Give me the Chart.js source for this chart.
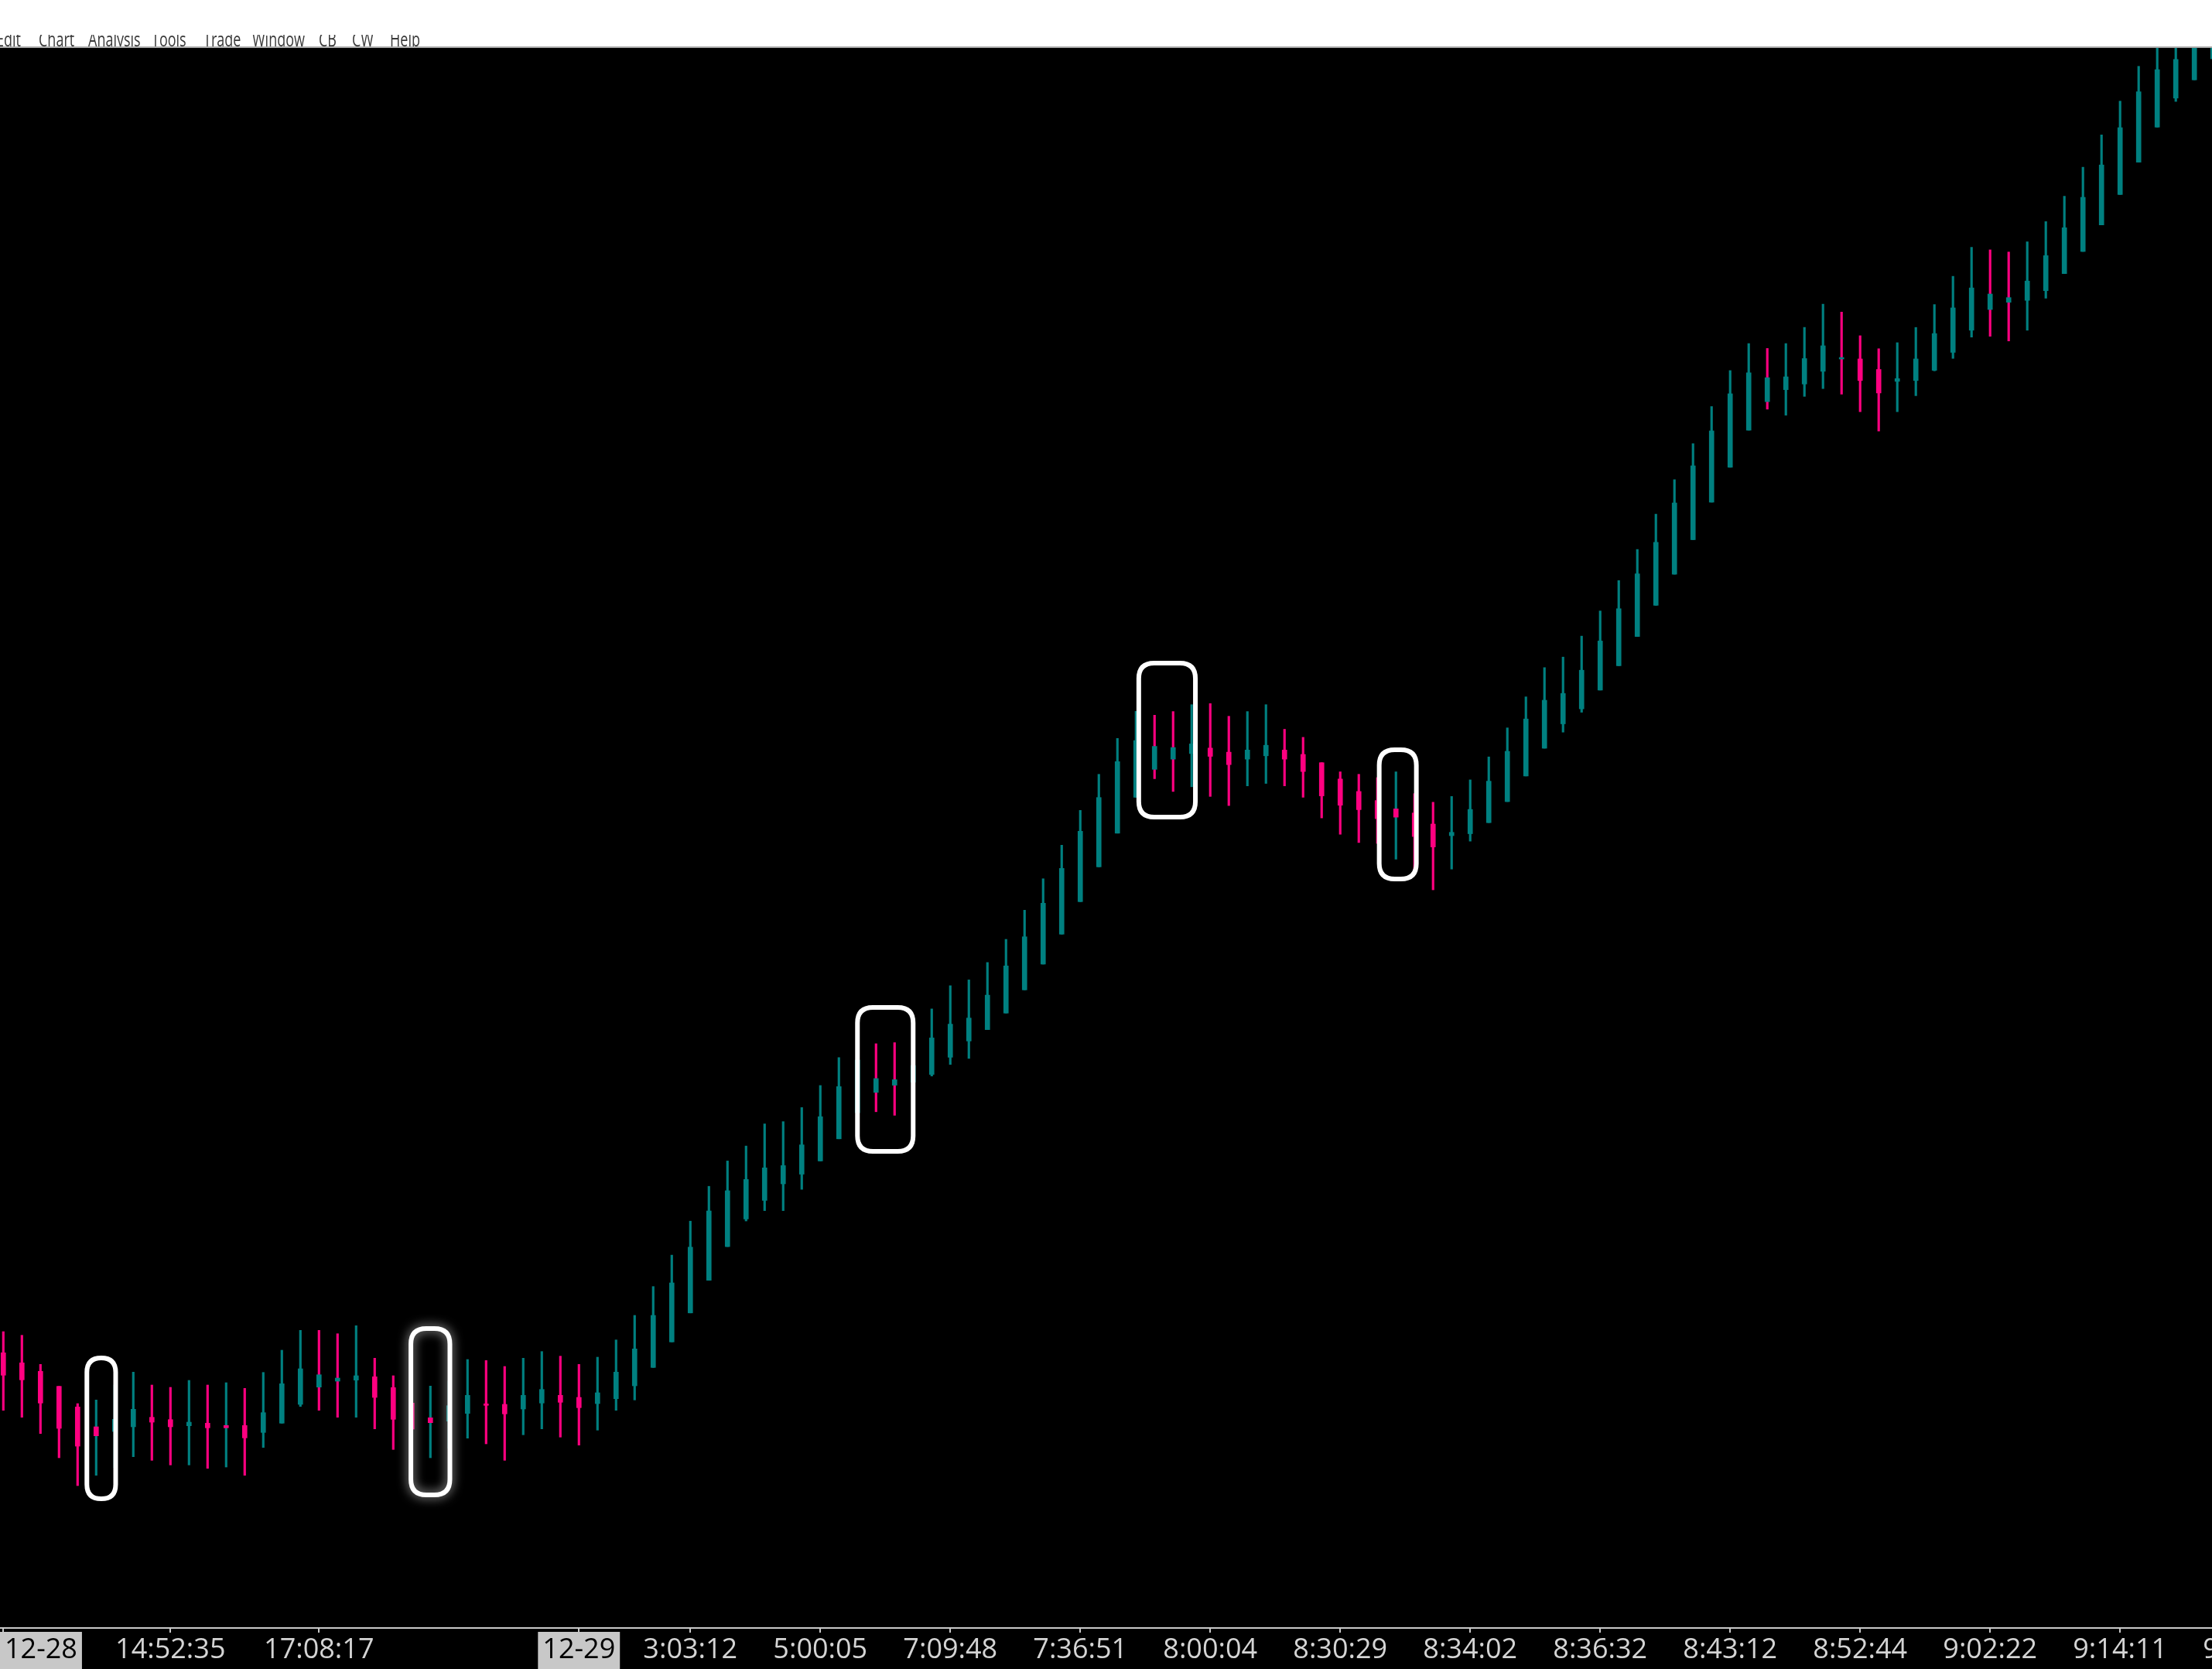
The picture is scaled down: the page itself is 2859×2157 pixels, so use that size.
<!DOCTYPE html>
<html>
<head>
<meta charset="utf-8">
<script src="https://cdn.jsdelivr.net/npm/chart.js@4.4.1/dist/chart.umd.min.js"></script>
<style>
html,body{margin:0;padding:0;background:#000;overflow:hidden}
#wrap{width:2859px;height:2157px;position:relative}
canvas{display:block}
</style>
</head>
<body>
<div id="wrap"><canvas id="c" width="2859" height="2157"></canvas></div>
<script>
// ---------- data (one value per bar, left to right) ----------
const opens = [35.17,33.87,32.77,30.83,28.17,25.6,25.0,25.6,26.83,26.53,
25.73,26.07,25.77,25.77,24.87,26.07,28.5,30.73,31.5,31.63,
32.07,30.67,28.67,26.77,26.33,27.33,28.47,28.5,27.9,28.67,
29.67,29.4,28.6,29.23,30.9,33.27,36.57,40.32,44.54,48.89,
52.46,54.86,57.0,58.25,59.96,62.82,66.2,68.82,69.75,70.14,
71.14,73.36,75.46,76.93,79.07,82.07,85.4,89.27,93.47,97.97,
102.32,106.96,110.57,111.89,112.61,113.32,112.79,111.89,112.32,113.07,
112.5,111.43,109.32,107.71,106.54,105.46,104.93,103.5,102.0,102.25,
103.68,106.4,109.71,113.3,116.45,118.39,120.81,123.96,127.74,131.77,
135.79,140.25,145.1,149.61,154.4,158.09,159.64,160.37,162.01,163.6,
163.61,162.25,160.71,160.82,162.14,164.46,167.32,170.0,170.93,171.18,
172.43,174.64,177.5,180.93,184.86,189.04,193.57,197.32,199.68,202.4];
const highs = [37.9,37.43,33.67,30.83,28.6,29.07,31.0,32.67,31.0,30.7,
31.6,31.0,31.3,30.57,32.63,35.5,38.07,38.07,37.63,38.67,
34.47,32.2,30.4,30.87,31.5,34.3,34.17,33.4,34.47,35.33,
34.73,33.67,34.6,36.83,40.0,43.73,47.79,52.18,56.68,59.96,
61.89,64.75,65.04,66.86,69.71,73.32,76.89,75.11,75.25,76.89,
79.61,82.61,83.36,85.61,88.6,92.37,96.43,100.77,105.27,109.93,
114.57,118.07,117.57,118.04,118.93,119.07,117.43,118.04,118.93,115.75,
114.71,111.43,110.25,109.93,109.5,110.25,107.43,106.32,107.07,109.21,
112.18,115.93,119.94,123.72,125.08,127.79,131.04,134.97,138.99,143.55,
148.01,152.66,157.46,162.11,165.6,164.97,165.6,167.69,170.69,169.67,
166.61,164.93,165.71,167.68,170.64,174.29,178.04,177.71,177.43,178.75,
181.36,184.64,188.39,192.57,196.93,201.43,206.0,207.0,208.0,210.0];
const lows = [27.73,26.83,24.73,21.6,18.0,19.33,20.33,21.73,21.27,20.67,
20.67,20.23,20.4,19.33,22.93,26.07,28.23,27.73,26.83,26.83,
25.33,22.67,20.57,21.6,22.83,24.13,23.4,21.27,24.57,25.33,
24.27,23.23,25.17,27.73,29.07,33.27,36.57,40.32,44.54,48.89,
52.2,53.54,53.54,56.29,59.96,62.82,66.2,66.32,65.86,66.57,
70.93,72.43,73.21,76.93,79.07,82.07,85.4,89.27,93.47,97.97,
102.32,106.96,109.36,107.71,108.32,107.07,105.89,108.43,108.75,108.43,
106.96,104.29,102.18,101.11,101.0,98.96,97.43,95.0,97.68,101.29,
103.68,106.4,109.71,113.3,115.38,117.95,120.81,123.96,127.74,131.77,
135.79,140.25,145.1,149.61,154.4,157.12,156.34,158.77,159.78,159.06,
156.79,154.29,156.79,158.86,162.07,163.68,166.43,166.54,165.93,167.32,
171.46,174.64,177.5,180.93,184.86,189.04,193.57,196.89,199.68,202.4];
const closes = [32.27,31.67,28.67,25.4,23.1,24.43,26.57,27.87,26.2,25.6,
26.2,25.47,25.47,24.17,27.43,31.17,33.1,32.33,31.9,32.2,
29.4,26.57,25.3,26.13,28.33,29.67,28.37,27.27,29.67,30.43,
28.77,28.07,30.0,32.67,35.67,40.0,44.2,48.82,53.5,56.11,
57.57,59.07,59.36,62.04,65.68,69.57,73.0,70.61,70.46,72.29,
75.86,77.64,78.43,81.39,85.17,88.93,93.27,97.77,102.57,106.93,
111.57,114.29,113.54,113.39,113.86,112.25,111.18,113.07,113.68,111.89,
110.29,107.14,105.93,105.36,104.2,104.39,101.89,100.54,102.43,105.39,
109.04,112.9,117.08,119.5,120.38,123.38,127.16,131.33,135.84,139.91,
145.0,149.8,154.31,159.11,161.82,161.19,161.3,163.66,165.31,163.7,
160.82,159.21,161.07,163.61,166.89,170.21,172.79,172.0,171.54,173.68,
176.96,180.57,184.5,188.68,193.5,198.14,201.0,202.32,206.5,208.0];

// time-axis ticks: bar index of each tick and its label
const tickBars   = [0, 9, 17, 31, 37, 44, 51, 58, 65, 72, 79, 86, 93, 100, 107, 114, 121];
const tickLabels = ["12-28","14:52:35","17:08:17","12-29","3:03:12","5:00:05","7:09:48",
                    "7:36:51","8:00:04","8:30:29","8:34:02","8:36:32","8:43:12","8:52:44",
                    "9:02:22","9:14:11","9:26:05"];

// hand-drawn highlight loops: bar-index span and price span
const loopFrom = [4.5, 21.95, 46.0, 61.15, 74.1];
const loopTo   = [6.05, 24.05, 49.0, 64.2, 76.1];
const loopLo   = [16.3, 16.8, 61.2, 104.4, 96.4];
const loopHi   = [34.5, 38.3, 79.8, 124.3, 113.1];

// window menu bar words
const menuWords = ["Edit","Chart","Analysis","Tools","Trade","Window","CB","CW","Help"];

// ---------- styling ----------
const UP = '#008080';
const DOWN = '#ff0080';
const idx = closes.map((_, i) => i);
const bodyColors = idx.map(i => closes[i] >= opens[i] ? UP : DOWN);
const wickColors = idx.map(i => i === 0 ? bodyColors[i] : (closes[i] >= closes[i-1] ? UP : DOWN));

const bodyData = idx.map(i => ({x: i, y: [opens[i], closes[i]]}));
const wickData = idx.map(i => ({x: i, y: [lows[i], highs[i]]}));

const menuX = [-5, 50, 114, 196, 263, 326, 412, 455, 504];

function rrect(ctx, x, y, w, h, r) {
  ctx.beginPath();
  ctx.moveTo(x + r, y);
  ctx.lineTo(x + w - r, y);
  ctx.quadraticCurveTo(x + w, y, x + w, y + r);
  ctx.lineTo(x + w, y + h - r);
  ctx.quadraticCurveTo(x + w, y + h, x + w - r, y + h);
  ctx.lineTo(x + r, y + h);
  ctx.quadraticCurveTo(x, y + h, x, y + h - r);
  ctx.lineTo(x, y + r);
  ctx.quadraticCurveTo(x, y, x + r, y);
  ctx.closePath();
}

const chrome = {
  id: 'chrome',
  afterDatasetsDraw(chart) {
    const {ctx, scales: {x, y}} = chart;
    ctx.save();
    ctx.strokeStyle = '#ffffff';
    ctx.lineWidth = 6;
    ctx.lineJoin = 'round';
    for (let k = 0; k < loopFrom.length; k++) {
      const x0 = x.getPixelForValue(loopFrom[k]);
      const x1 = x.getPixelForValue(loopTo[k]);
      const y0 = y.getPixelForValue(loopHi[k]);
      const y1 = y.getPixelForValue(loopLo[k]);
      if (k === 1) { ctx.shadowColor = 'rgba(210,210,210,0.9)'; ctx.shadowBlur = 14; }
      else { ctx.shadowBlur = 0; }
      rrect(ctx, x0, y0, x1 - x0, y1 - y0, Math.min(20, (x1 - x0) / 2));
      ctx.stroke();
    }
    ctx.restore();
  },
  afterDraw(chart) {
    const {ctx, chartArea: a, scales: {x}} = chart;
    const W = chart.width, H = chart.height;
    ctx.save();
    // menu bar
    ctx.fillStyle = '#ffffff';
    ctx.fillRect(0, 0, W, a.top);
    ctx.fillStyle = '#a8a8a8';
    ctx.fillRect(0, a.top - 2, W, 2);
    ctx.save();
    ctx.beginPath();
    ctx.rect(0, 45, W, a.top - 47);
    ctx.clip();
    ctx.fillStyle = '#3a3a3a';
    ctx.font = '25px "Open Sans"';
    ctx.textBaseline = 'alphabetic';
    for (let k = 0; k < menuWords.length; k++) {
      ctx.setTransform(0.72, 0, 0, 1, menuX[k], 0);
      ctx.fillText(menuWords[k], 0, 60);
    }
    ctx.setTransform(1, 0, 0, 1, 0, 0);
    ctx.restore();

    // time axis
    const base = a.bottom;
    ctx.fillStyle = '#c8c8c8';
    ctx.fillRect(0, base, W, 2);
    ctx.font = '36px "Open Sans"';
    ctx.textBaseline = 'alphabetic';
    for (let k = 0; k < tickBars.length; k++) {
      const px = x.getPixelForValue(tickBars[k]);
      ctx.fillStyle = '#c8c8c8';
      ctx.fillRect(Math.round(px) - 1, base, 2, 7);
      const t = tickLabels[k];
      const w = ctx.measureText(t).width;
      if (t.indexOf('-') >= 0) {
        const bw = w + 12;
        let bx = px - bw / 2;
        if (bx < 0) bx = 0;
        ctx.fillStyle = '#c8c8c8';
        ctx.fillRect(bx, base + 6, bw, H - base - 6);
        ctx.fillStyle = '#000000';
        ctx.textAlign = 'center';
        ctx.fillText(t, bx + bw / 2, base + 40);
      } else {
        ctx.fillStyle = '#d4d4d4';
        ctx.textAlign = 'center';
        ctx.fillText(t, px, base + 40);
      }
    }
    ctx.restore();
  }
};

Chart.defaults.font.family = '"Open Sans"';

new Chart(document.getElementById('c'), {
  type: 'bar',
  data: {
    datasets: [
      {
        label: 'body',
        data: bodyData,
        backgroundColor: bodyColors,
        borderWidth: 0,
        barThickness: 6,
        minBarLength: 2,
        grouped: false,
        clip: 0
      },
      {
        label: 'wick',
        data: wickData,
        backgroundColor: wickColors,
        borderWidth: 0,
        barThickness: 2.5,
        grouped: false,
        clip: 0
      }
    ]
  },
  options: {
    responsive: false,
    devicePixelRatio: 1,
    animation: false,
    layout: {padding: {top: 62, bottom: 54, left: 0, right: 0}},
    plugins: {legend: {display: false}, tooltip: {enabled: false}},
    scales: {
      x: {type: 'linear', min: -0.179, max: 118.95, offset: false, bounds: 'ticks', display: false, grid: {offset: false}},
      y: {min: -0.3, max: 203.8, display: false}
    }
  },
  plugins: [chrome]
});
</script>
</body>
</html>
